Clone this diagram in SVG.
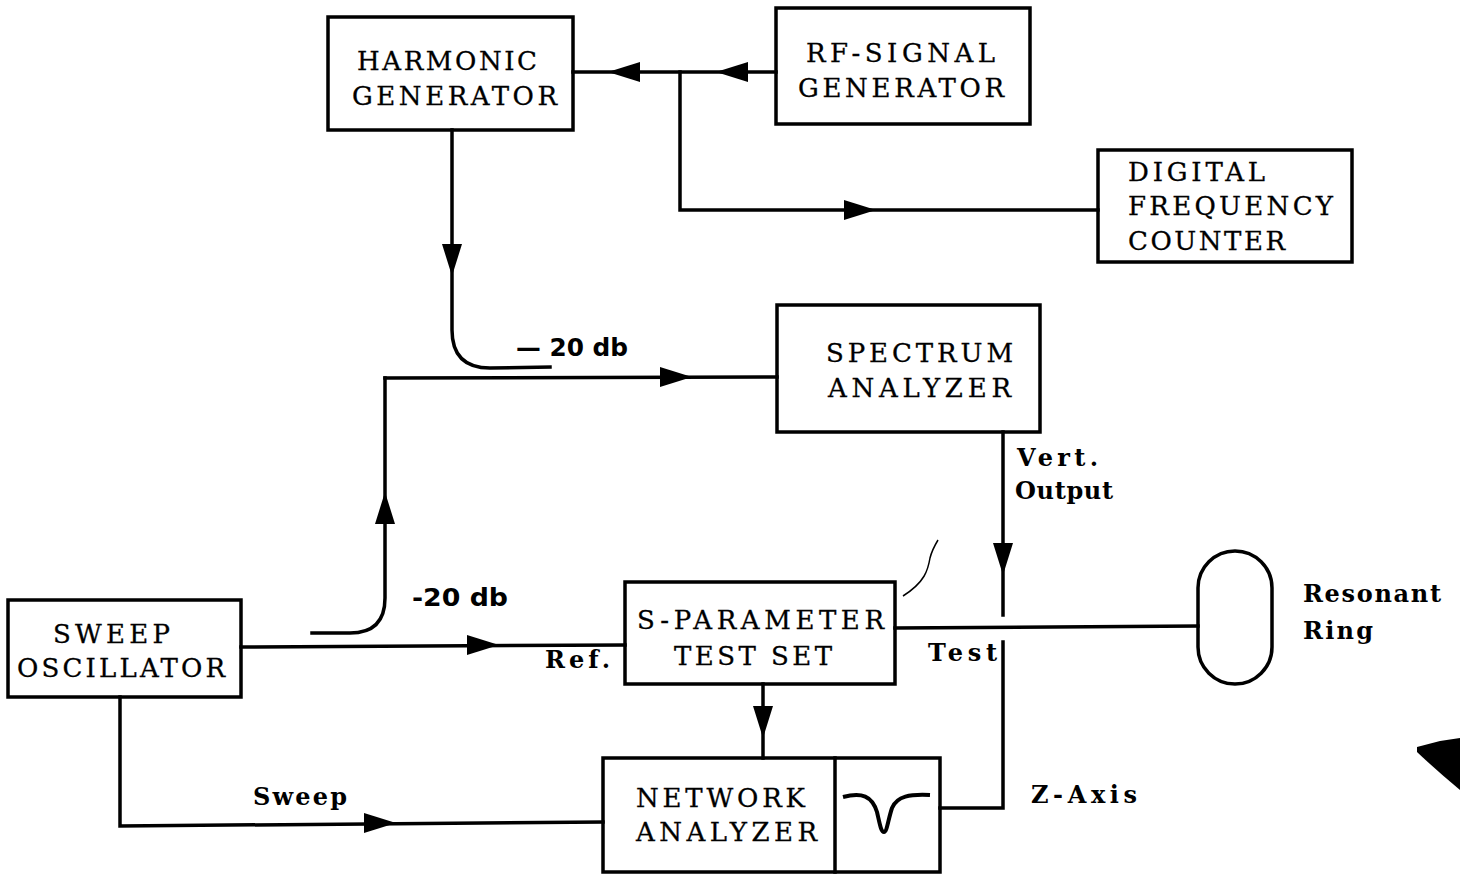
<svg xmlns="http://www.w3.org/2000/svg" width="1460" height="875" viewBox="0 0 1460 875">
<style>
.box{fill:none;stroke:#000;stroke-width:3.5}
.ln{fill:none;stroke:#000;stroke-width:3.5;stroke-linecap:square}
.t{font-family:"DejaVu Serif","Liberation Serif",serif;font-size:26px;fill:#000;stroke:#000;stroke-width:0.3}
.l{font-family:"DejaVu Serif","Liberation Serif",serif;font-size:24px;font-weight:bold;fill:#000}
.db{font-family:"DejaVu Sans","Liberation Sans",sans-serif;font-size:24px;font-weight:bold;fill:#000}
</style>
<defs>
<path id="ah" d="M0,0 L-32,-10 L-32,10 Z" fill="#000"/>
</defs>
<rect width="1460" height="875" fill="#fff"/>

<g id="connectors">
<path class="ln" d="M776,72 L573,72"/>
<path class="ln" d="M680,72 L680,210 L1098,210"/>
<path class="ln" d="M452,130 L452,330 Q452,368 490,368 L550,367"/>
<path class="ln" d="M385,378 L777,377"/>
<path class="ln" d="M385,378 L385,598 Q385,633 350,633 L312,633"/>
<path class="ln" d="M241,647 L625,645"/>
<path class="ln" d="M895,628 L1198,626"/>
<path class="ln" d="M1003,432 L1003,615"/>
<path class="ln" d="M1003,642 L1003,808 L940,808"/>
<path class="ln" d="M763,684 L763,758"/>
<path class="ln" d="M120,697 L120,826 L603,822"/>
<path d="M903,596 C925,582 928,570 930,558 C932,550 935,545 938,540" fill="none" stroke="#000" stroke-width="1.5"/>
<use href="#ah" transform="translate(608,72) rotate(180)"/>
<use href="#ah" transform="translate(716,72) rotate(180)"/>
<use href="#ah" transform="translate(876,210)"/>
<use href="#ah" transform="translate(452,276) rotate(90)"/>
<use href="#ah" transform="translate(692,377)"/>
<use href="#ah" transform="translate(385,492) rotate(-90)"/>
<use href="#ah" transform="translate(499,645)"/>
<use href="#ah" transform="translate(1003,575) rotate(90)"/>
<use href="#ah" transform="translate(763,738) rotate(90)"/>
<use href="#ah" transform="translate(396,823)"/>
<text class="db" x="516" y="356" textLength="112" lengthAdjust="spacingAndGlyphs">— 20 db</text>
<text class="db" x="412" y="606" textLength="96" lengthAdjust="spacingAndGlyphs">-20 db</text>
<text class="l" x="545" y="668" textLength="65" lengthAdjust="spacing">Ref.</text>
<text class="l" x="928" y="661" textLength="69" lengthAdjust="spacing">Test</text>
<text class="l" x="1017" y="466" textLength="81" lengthAdjust="spacing">Vert.</text>
<text class="l" x="1015" y="499" textLength="98" lengthAdjust="spacing">Output</text>
<text class="l" x="1031" y="803" textLength="106" lengthAdjust="spacing">Z-Axis</text>
<text class="l" x="253" y="805" textLength="94" lengthAdjust="spacing">Sweep</text>
</g>

<g id="harmonic-generator">
<rect class="box" x="328" y="17" width="245" height="113"/>
<text class="t" x="357" y="70" textLength="180" lengthAdjust="spacing">HARMONIC</text>
<text class="t" x="352" y="105" textLength="205" lengthAdjust="spacing">GENERATOR</text>
</g>

<g id="rf-signal-generator">
<rect class="box" x="776" y="8" width="254" height="116"/>
<text class="t" x="806" y="62" textLength="189" lengthAdjust="spacing">RF-SIGNAL</text>
<text class="t" x="798" y="97" textLength="206" lengthAdjust="spacing">GENERATOR</text>
</g>

<g id="digital-frequency-counter">
<rect class="box" x="1098" y="150" width="254" height="112"/>
<text class="t" x="1128" y="181" textLength="137" lengthAdjust="spacing">DIGITAL</text>
<text class="t" x="1128" y="215" textLength="205" lengthAdjust="spacing">FREQUENCY</text>
<text class="t" x="1128" y="250" textLength="157" lengthAdjust="spacing">COUNTER</text>
</g>

<g id="spectrum-analyzer">
<rect class="box" x="777" y="305" width="263" height="127"/>
<text class="t" x="826" y="362" textLength="187" lengthAdjust="spacing">SPECTRUM</text>
<text class="t" x="828" y="397" textLength="183" lengthAdjust="spacing">ANALYZER</text>
</g>

<g id="sweep-oscillator">
<rect class="box" x="8" y="600" width="233" height="97"/>
<text class="t" x="53" y="643" textLength="117" lengthAdjust="spacing">SWEEP</text>
<text class="t" x="17" y="677" textLength="208" lengthAdjust="spacing">OSCILLATOR</text>
</g>

<g id="s-parameter-test-set">
<rect class="box" x="625" y="582" width="270" height="102"/>
<text class="t" x="637" y="629" textLength="247" lengthAdjust="spacing">S-PARAMETER</text>
<text class="t" x="674" y="665" textLength="158" lengthAdjust="spacing">TEST SET</text>
</g>

<g id="network-analyzer">
<rect class="box" x="603" y="758" width="337" height="114"/>
<line class="ln" x1="835" y1="758" x2="835" y2="872"/>
<path d="M843,797 C862,792 872,796 877,812 C880,825 881,832 884,832 C887,832 888,820 892,808 C897,796 910,794 930,795" fill="none" stroke="#000" stroke-width="4"/>
<text class="t" x="636" y="807" textLength="169" lengthAdjust="spacing">NETWORK</text>
<text class="t" x="636" y="841" textLength="181" lengthAdjust="spacing">ANALYZER</text>
</g>

<g id="resonant-ring">
<rect class="box" x="1198" y="551" width="74" height="133" rx="37" ry="37"/>
<text class="l" x="1303" y="602" textLength="138" lengthAdjust="spacing">Resonant</text>
<text class="l" x="1303" y="639" textLength="70" lengthAdjust="spacing">Ring</text>
</g>

<path d="M1417,747 L1440,741 L1460,738 L1460,790 Q1436,770 1417,752 Z" fill="#000"/>
</svg>
